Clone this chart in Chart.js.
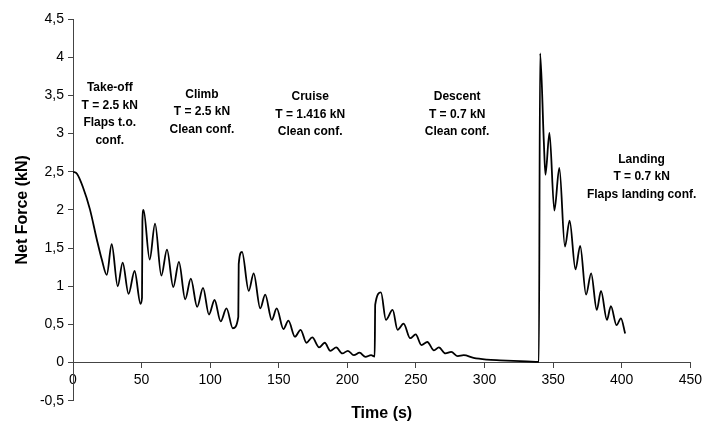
<!DOCTYPE html>
<html>
<head>
<meta charset="utf-8">
<script src="https://cdn.jsdelivr.net/npm/chart.js@4.4.1/dist/chart.umd.min.js"></script>
<style>
  html, body { margin: 0; padding: 0; background: #fff; }
  canvas { display: block; }
</style>
</head>
<body>
<canvas id="forceChart" width="706" height="433"></canvas>
<script>
// flight phases (time in s, net force in kN)
const time = [
  0, 3, 7.2, 12.3, 17.4, 21, 24.6, 28.2, 32.6, 36.2, 40.5, 44.9, 49.2, 50.3, 50.6, 51.4,
  55.9, 59.8, 64.4, 68.5, 73.1, 77.2, 81.8, 85.9, 90.5, 94.8, 99.1, 103.2, 107.6, 111.9, 116.5, 120.5, 120.8, 123.2,
  128.1, 131.7, 136.5, 140.1, 144.9, 148.5, 153.4, 157, 161.8, 165.9, 170.2, 174.4, 179.4, 183.5, 187.6, 191.9,
  196.3, 200.4, 204.7, 208.9, 213.2, 217.3, 219.9, 220.3, 224.5,
  228.1, 233, 236.6, 241, 245.8, 249.8, 254, 258.3, 263.1, 266.7, 271.5, 275.7, 280.5, 284.8, 292, 301.7, 311.3, 321, 330.7, 339.6, 340.5,
  343.2, 344.4, 347.3, 350.9, 354.5, 358.6, 362, 366.3, 369.7, 374, 377.7, 381.8, 384.9, 389.2, 392.1, 396.2, 399.4, 402.5
];
const force = [
  2.50, 2.47, 2.30, 2.01, 1.61, 1.35, 1.15, 1.55, 1.00, 1.31, 0.90, 1.20, 0.77, 0.85, 1.85, 2.00,
  1.35, 1.82, 1.14, 1.48, 0.99, 1.32, 0.83, 1.10, 0.73, 0.98, 0.63, 0.82, 0.54, 0.71, 0.45, 0.60, 1.29, 1.45,
  0.94, 1.17, 0.71, 0.89, 0.56, 0.71, 0.44, 0.55, 0.34, 0.43, 0.26, 0.33, 0.20, 0.26, 0.155, 0.20,
  0.12, 0.155, 0.097, 0.13, 0.075, 0.097, 0.08, 0.76, 0.92,
  0.56, 0.69, 0.43, 0.51, 0.32, 0.37, 0.23, 0.27, 0.16, 0.20, 0.12, 0.14, 0.085, 0.097, 0.062, 0.04, 0.03, 0.022, 0.017, 0.01, 4.05,
  2.90, 2.46, 3.01, 1.99, 2.55, 1.52, 1.86, 1.22, 1.53, 0.89, 1.17, 0.69, 0.94, 0.56, 0.74, 0.49, 0.58, 0.38
];

const xTicks = [0, 50, 100, 150, 200, 250, 300, 350, 400, 450];
const yTicks = [-0.5, 0, 0.5, 1, 1.5, 2, 2.5, 3, 3.5, 4, 4.5];

// phase notes: anchor (time, force) of the first line
const phaseText = [
  ["Take-off", "T = 2.5 kN", "Flaps t.o.", "conf."],
  ["Climb", "T = 2.5 kN", "Clean conf."],
  ["Cruise", "T = 1.416 kN", "Clean conf."],
  ["Descent", "T = 0.7 kN", "Clean conf."],
  ["Landing", "T = 0.7 kN", "Flaps landing conf."]
];
const phaseX = [26.8, 94, 172.9, 280, 414.5];
const phaseY = [3.60, 3.51, 3.48, 3.48, 2.66];

const FONT = "'Liberation Sans', Arial, sans-serif";
const points = time.map((t, i) => ({ x: t, y: force[i] }));

const phaseNotes = {
  id: "phaseNotes",
  afterDraw(chart) {
    const { ctx, scales } = chart;
    ctx.save();
    ctx.font = "bold 12px " + FONT;
    ctx.fillStyle = "#000";
    ctx.textAlign = "center";
    ctx.textBaseline = "middle";
    phaseText.forEach((lines, i) => {
      const px = scales.x.getPixelForValue(phaseX[i]);
      const py = scales.y.getPixelForValue(phaseY[i]);
      lines.forEach((line, j) => ctx.fillText(line, px, py + j * 17.5));
    });
    ctx.restore();
  }
};

new Chart(document.getElementById("forceChart"), {
  type: "line",
  data: {
    datasets: [{
      data: points,
      borderColor: "#000",
      borderWidth: 1.8,
      pointRadius: 0,
      cubicInterpolationMode: "monotone",
      fill: false
    }]
  },
  options: {
    responsive: false,
    animation: false,
    layout: { padding: { left: 5, right: 11, top: 19, bottom: 0 } },
    plugins: {
      legend: { display: false },
      tooltip: { enabled: false },
      title: {
        display: true,
        text: "Time (s)",
        position: "bottom",
        fullSize: false,
        color: "#000",
        font: { family: FONT, size: 16, weight: "bold" },
        padding: { top: 3, bottom: 10 }
      }
    },
    scales: {
      x: {
        type: "linear",
        min: 0,
        max: 450,
        position: { y: 0 },
        afterFit: s => { s.height = 4; },
        afterBuildTicks: s => { s.ticks = xTicks.map(v => ({ value: v })); },
        grid: { drawOnChartArea: false, tickLength: 5, color: "#444" },
        border: { color: "#444", width: 1 },
        ticks: { color: "#000", padding: 4, font: { family: FONT, size: 14 } }
      },
      y: {
        min: -0.5,
        max: 4.5,
        afterFit: s => { s.width = 68; },
        afterBuildTicks: s => { s.ticks = yTicks.map(v => ({ value: v })); },
        grid: { drawOnChartArea: false, tickLength: 5, color: "#444" },
        border: { color: "#444", width: 1 },
        ticks: {
          color: "#000",
          padding: 4,
          font: { family: FONT, size: 14 },
          callback: v => String(v).replace(".", ",")
        },
        title: {
          display: true,
          text: "Net Force (kN)",
          color: "#000",
          font: { family: FONT, size: 16, weight: "bold" },
          padding: { top: 8, bottom: 4 }
        }
      }
    }
  },
  plugins: [phaseNotes]
});
</script>
</body>
</html>
